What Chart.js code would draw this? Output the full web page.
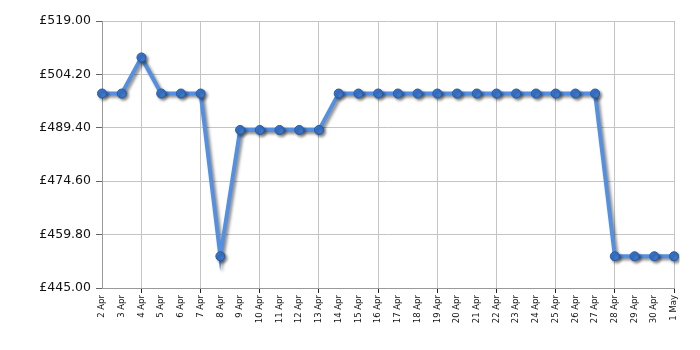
<!DOCTYPE html>
<html>
<head>
<meta charset="utf-8">
<script src="https://cdn.jsdelivr.net/npm/chart.js@4"></script>
<style>
  html, body { margin: 0; padding: 0; background: #fff; }
</style>
</head>
<body>
<canvas id="priceChart" width="700" height="350"></canvas>
<script>
// Dados do grafico
const days = ['2 Apr', '3 Apr', '4 Apr', '5 Apr', '6 Apr', '7 Apr', '8 Apr', '9 Apr', '10 Apr',
  '11 Apr', '12 Apr', '13 Apr', '14 Apr', '15 Apr', '16 Apr', '17 Apr', '18 Apr', '19 Apr',
  '20 Apr', '21 Apr', '22 Apr', '23 Apr', '24 Apr', '25 Apr', '26 Apr', '27 Apr', '28 Apr',
  '29 Apr', '30 Apr', '1 May'];
const prices = [498.9, 498.9, 508.9, 498.9, 498.9, 498.9, 453.8, 488.8, 488.8, 488.8, 488.8,
  488.8, 498.9, 498.9, 498.9, 498.9, 498.9, 498.9, 498.9, 498.9, 498.9, 498.9, 498.9, 498.9,
  498.9, 498.9, 453.8, 453.8, 453.8, 453.8];
const yTicks = [445, 459.8, 474.6, 489.4, 504.2, 519];

// sombra da linha
const shadowPlugin = {
  id: 'lineShadow',
  beforeDatasetsDraw(chart) {
    const ctx = chart.ctx;
    ctx.save();
    ctx.shadowColor = 'rgba(0,0,0,0.45)';
    ctx.shadowBlur = 3;
    ctx.shadowOffsetX = 2;
    ctx.shadowOffsetY = 2;
  },
  afterDatasetsDraw(chart) {
    chart.ctx.restore();
  }
};

const showGrid = i => (days.length - 1 - i) % 3 === 0;

new Chart(document.getElementById('priceChart'), {
  type: 'line',
  data: {
    labels: days,
    datasets: [{
      data: prices,
      borderColor: '#5590e0',
      borderWidth: 4,
      pointRadius: 4.5,
      pointBackgroundColor: '#3a78d0',
      pointBorderColor: '#2a5a9e',
      pointBorderWidth: 1,
      tension: 0
    }]
  },
  options: {
    responsive: false,
    animation: false,
    layout: { padding: { top: 21, right: 26 } },
    plugins: {
      legend: { display: false },
      tooltip: { enabled: false }
    },
    scales: {
      x: {
        offset: false,
        afterFit: s => { s.height = 62; },
        border: { color: '#999' },
        grid: {
          color: c => showGrid(c.index) ? '#c4c4c4' : 'rgba(0,0,0,0)',
          tickColor: c => showGrid(c.index) ? '#222' : 'rgba(0,0,0,0)',
          tickLength: 5
        },
        ticks: {
          autoSkip: false,
          minRotation: 90,
          maxRotation: 90,
          padding: 2,
          color: '#111',
          font: { family: 'DejaVu Sans', size: 8.5 }
        }
      },
      y: {
        min: 445,
        max: 519,
        afterFit: s => { s.width = 102; },
        afterBuildTicks: s => { s.ticks = yTicks.map(v => ({ value: v })); },
        border: { color: '#999' },
        grid: { color: '#c4c4c4', tickColor: '#666', tickLength: 6 },
        ticks: {
          padding: 5,
          color: '#111',
          font: { family: 'DejaVu Sans', size: 12.5 },
          callback: v => '£' + Number(v).toFixed(2)
        }
      }
    }
  },
  plugins: [shadowPlugin]
});
</script>
</body>
</html>
